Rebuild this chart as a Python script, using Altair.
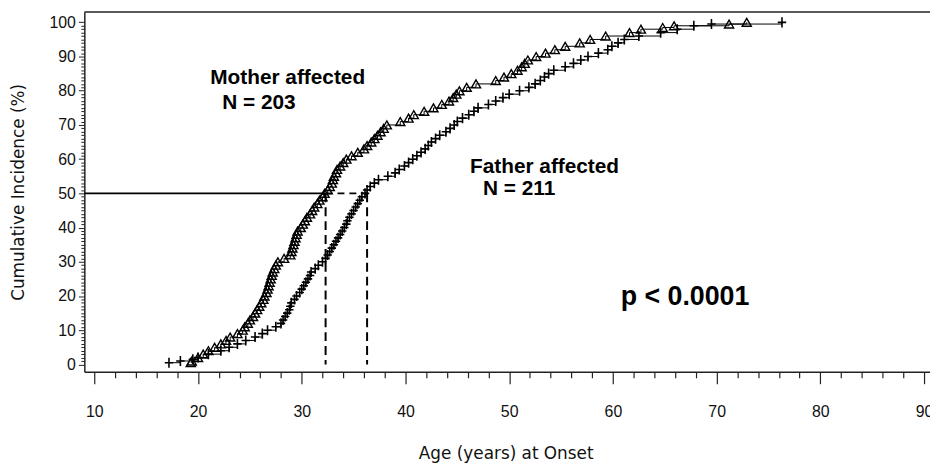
import altair as alt
import pandas as pd

# ---- data ----
mother_pct = [0.5, 1, 2, 3, 4, 5, 6, 7, 8, 9, 10, 11, 12, 13, 14, 15, 16, 17, 18, 19, 20,
              21, 22, 23, 24, 25, 26, 27, 28, 29, 30, 31, 32, 33, 34, 35, 36, 37, 38, 39, 40,
              41, 42, 43, 44, 45, 46, 47, 48, 49, 50, 51, 52, 53, 54, 55, 56, 57, 58, 59, 60,
              61, 62, 63, 64, 65, 66, 67, 68, 69, 70, 71, 72, 73, 74, 75, 76, 77, 78, 79, 80,
              81, 82, 83, 84, 85, 86, 87, 88, 89, 90, 91, 92, 93, 94, 95, 96, 97, 98, 98.5,
              99, 99.5, 100]
mother_age = [19.3, 19.4, 20.0, 20.5, 21.0, 21.6, 22.2, 22.7, 23.1, 23.8, 24.3,
              24.5, 24.8, 25.0, 25.3, 25.5, 25.7, 25.9, 26.1, 26.3, 26.4,
              26.6, 26.7, 26.8, 26.9, 27.0, 27.1, 27.2, 27.35, 27.5, 27.7,
              28.3, 28.9, 29.0, 29.1, 29.2, 29.3, 29.4, 29.5, 29.6, 29.9,
              30.1, 30.3, 30.5, 30.8, 31.0, 31.2, 31.5, 31.7, 32.0, 32.2,
              32.5, 32.7, 32.9, 33.0, 33.1, 33.3, 33.4, 33.7, 34.0, 34.3,
              34.8, 35.4, 36.0, 36.3, 36.7, 37.0, 37.3, 37.6, 37.9, 38.2,
              39.5, 40.3, 40.8, 41.8, 42.7, 43.5, 44.2, 44.6, 44.9, 45.2,
              45.9, 46.8, 48.7, 49.5, 50.2, 50.8, 51.2, 51.5, 51.8, 52.6,
              53.5, 54.4, 55.4, 56.8, 57.8, 59.3, 61.6, 62.7, 64.8,
              65.9, 71.2, 72.9]

father_pct = [0.5, 1, 1.5, 2, 3, 4, 5, 6, 7, 8, 9, 10, 11, 12, 13, 14, 15, 16, 17, 18, 19, 20,
              21, 22, 23, 24, 25, 26, 27, 28, 29, 30, 31, 32, 33, 34, 35, 36, 37, 38, 39, 40,
              41, 42, 43, 44, 45, 46, 47, 48, 49, 50, 51, 52, 53, 54, 55, 56, 57, 58, 59, 60,
              61, 62, 63, 64, 65, 66, 67, 68, 69, 70, 71, 72, 73, 74, 75, 76, 77, 78, 79, 80,
              81, 82, 83, 84, 85, 86, 87, 88, 89, 90, 91, 92, 93, 94, 95, 96, 97, 98, 99,
              99.5, 100]
father_age = [17.2, 18.3, 19.5, 20.0, 21.0, 22.2, 23.0, 23.8, 24.6, 25.5, 26.2, 26.7,
              27.5, 28.0, 28.2, 28.4, 28.6, 28.8, 28.9, 29.0, 29.3, 29.5,
              29.8, 30.0, 30.2, 30.4, 30.6, 30.8, 30.9, 31.3, 31.6, 32.0,
              32.3, 32.5, 32.7, 32.9, 33.1, 33.3, 33.5, 33.7, 33.9, 34.1,
              34.3, 34.4, 34.6, 34.8, 35.0, 35.2, 35.4, 35.6, 35.8, 36.1,
              36.3, 36.6, 37.0, 37.4, 38.3, 39.0, 39.4, 39.9, 40.3, 40.7,
              41.1, 41.5, 41.9, 42.2, 42.5, 42.9, 43.3, 43.9, 44.3, 44.7,
              45.0, 45.5, 46.1, 46.6, 47.0, 48.0, 48.7, 49.4, 50.0, 51.0,
              51.9, 52.5, 53.0, 53.4, 53.8, 54.3, 55.4, 56.2, 56.9, 57.6,
              58.6, 59.5, 59.9, 60.5, 61.1, 62.5, 64.6, 66.2, 67.8,
              69.5, 76.3]

median_age = [32.3, 36.3]
median_level = 50

x_tick_values = list(range(10, 91, 2))
y_tick_values = list(range(0, 101, 1))

annotations = ["Mother affected", "N = 203", "Father affected", "N = 211"]
p_text = ["p < 0.0001"]

# ---- layout ----
W, H = 853, 363
X_MIN, X_MAX = 9.04, 90.57
Y_MIN, Y_MAX = -2.17, 103.04
FONT = "Liberation Sans"
TFONT = "DejaVu Sans"
INK = "#111111"

mother = pd.DataFrame({"age": mother_age, "pct": mother_pct})
father = pd.DataFrame({"age": father_age, "pct": father_pct})
med = pd.DataFrame({"age": median_age, "pct": [median_level] * len(median_age),
                    "pct2": [0] * len(median_age)})
h_solid_df = pd.DataFrame({"age": [X_MIN], "age2": [median_age[0]], "pct": [median_level]})
h_dash_df = pd.DataFrame({"age": [median_age[0]], "age2": [median_age[1]], "pct": [median_level]})
frame_df = pd.DataFrame({"age": [X_MIN], "age2": [X_MAX], "pct": [Y_MAX]})
ann_df = pd.DataFrame({"label": annotations,
                       "age": [21.18, 22.33, 46.22, 47.47],
                       "pct": [81.9, 74.6, 56.1, 49.4]})
p_df = pd.DataFrame({"label": p_text, "age": [60.75], "pct": [17.5]})

xs = alt.Scale(domain=[X_MIN, X_MAX], nice=False, zero=False)
ys = alt.Scale(domain=[Y_MIN, Y_MAX], nice=False, zero=False)

major = "datum.value % 10 === 0"
x_axis = alt.Axis(
    values=x_tick_values, title="Age (years) at Onset",
    labelExpr=f"{major} ? datum.label : ''",
    tickSize={"condition": {"test": major, "value": 12}, "value": 6},
    labelPadding=20, labelFlush=False, labelOverlap=False, grid=False,
    domainColor="#222222", domainWidth=1.5, tickColor="#222222", tickWidth=1.2,
    labelFont=FONT, labelFontSize=16, labelColor=INK,
    titleFont=TFONT, titleFontSize=17, titleFontWeight="normal", titleColor=INK,
    titleX=425, titleY=87, titleBaseline="alphabetic",
)
y_axis = alt.Axis(
    values=y_tick_values, title="Cumulative Incidence (%)",
    labelExpr=f"{major} ? datum.label : ''",
    tickSize={"condition": {"test": major, "value": 6}, "value": 3.5},
    labelPadding=3, labelFlush=False, labelOverlap=False, grid=False,
    domainColor="#222222", domainWidth=1.5, tickColor="#222222", tickWidth=1,
    labelFont=FONT, labelFontSize=16, labelColor=INK, labelBaseline="middle",
    titleFont=TFONT, titleFontSize=17, titleFontWeight="normal", titleColor=INK,
    titleX=-66, titleY=H / 2, titleBaseline="middle",
)

X = alt.X("age:Q", scale=xs, axis=x_axis)
Y = alt.Y("pct:Q", scale=ys, axis=y_axis)

line_m = alt.Chart(mother).mark_line(interpolate="step-after", color="black", strokeWidth=1).encode(x=X, y=Y)
line_f = alt.Chart(father).mark_line(interpolate="step-after", color="black", strokeWidth=1).encode(x=X, y=Y)

pts_m = alt.Chart(mother).mark_point(shape="triangle-up", size=85, filled=False, color="black",
                                     strokeWidth=1.4, opacity=1).encode(x=X, y=Y)
pts_f = alt.Chart(father).mark_point(shape="M-1,0H1M0,-1.2V1.2", size=72, filled=False, color="black",
                                     strokeWidth=1.6, opacity=1).encode(x=X, y=Y)

h_solid = alt.Chart(h_solid_df).mark_rule(color="black", strokeWidth=2).encode(x=X, x2="age2:Q", y=Y)
h_dash = alt.Chart(h_dash_df).mark_rule(color="black", strokeWidth=2, strokeDash=[7, 5]).encode(
    x=X, x2="age2:Q", y=Y)
v_dash = alt.Chart(med).mark_rule(color="black", strokeWidth=2, strokeDash=[9, 5]).encode(
    x=X, y=Y, y2="pct2:Q")
top_frame = alt.Chart(frame_df).mark_rule(color="#222222", strokeWidth=1.5).encode(x=X, x2="age2:Q", y=Y)

txt_ann = alt.Chart(ann_df).mark_text(align="left", baseline="alphabetic", font=FONT,
    fontWeight="bold", fontSize=21, color="black").encode(x=X, y=Y, text="label:N")
txt_p = alt.Chart(p_df).mark_text(align="left", baseline="alphabetic", font=FONT,
    fontWeight="bold", fontSize=27, color="black").encode(x=X, y=Y, text="label:N")

chart = alt.layer(
    line_m, line_f, h_solid, h_dash, v_dash, pts_m, pts_f, top_frame, txt_ann, txt_p,
).properties(
    width=W, height=H,
    padding={"left": 77, "top": 2, "right": 0, "bottom": 92},
    autosize=alt.AutoSizeParams(type="none"),
    background="white",
).configure_view(stroke=None)

chart.save("out.html", embed_options={"renderer": "svg", "actions": False})
